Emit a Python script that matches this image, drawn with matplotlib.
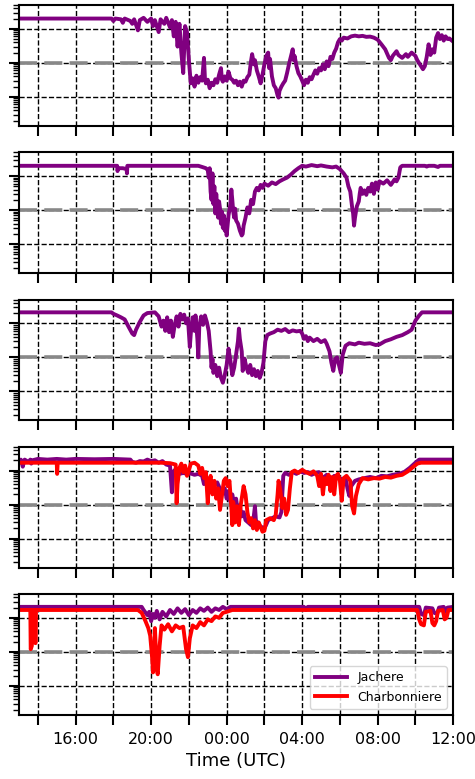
import numpy as np
import matplotlib
matplotlib.use("Agg")
import matplotlib.pyplot as plt
from matplotlib.ticker import FixedLocator, FuncFormatter, NullFormatter

# Visibilité (m) en fonction de l'heure (heures depuis minuit du premier jour)
site1_jachere = [
    (13.0, 20000), (17.9, 20000), (18.0, 17000), (18.1, 20000), (18.4, 19000),
    (18.5, 15000), (18.6, 20000), (18.9, 17000), (19.0, 14000), (19.1, 19000),
    (19.3, 9000), (19.4, 18000), (19.6, 21000), (19.8, 16000), (20.0, 20000),
    (20.1, 12000), (20.2, 18000), (20.4, 8000), (20.5, 19000), (20.7, 14000),
    (20.8, 21000), (21.0, 11000), (21.1, 18000), (21.2, 6000), (21.3, 16000),
    (21.4, 3000), (21.5, 14000), (21.6, 2000), (21.7, 500), (21.8, 12000),
    (21.9, 8000), (22.0, 1200), (22.1, 250), (22.2, 350), (22.3, 200),
    (22.4, 420), (22.5, 260), (22.6, 380), (22.7, 300), (22.8, 1400),
    (22.85, 350), (22.9, 250), (23.0, 320), (23.1, 180), (23.2, 260),
    (23.3, 220), (23.4, 330), (23.5, 260), (23.6, 450), (23.7, 700),
    (23.75, 320), (23.8, 280), (23.9, 400), (24.0, 300), (24.1, 550),
    (24.2, 350), (24.3, 320), (24.4, 260), (24.5, 300), (24.6, 220),
    (24.7, 280), (24.8, 200), (24.9, 300), (25.0, 280), (25.1, 380),
    (25.2, 450), (25.3, 1200), (25.35, 1800), (25.45, 900), (25.5, 1200),
    (25.6, 600), (25.7, 400), (25.8, 250), (25.9, 450), (26.0, 900),
    (26.1, 1600), (26.2, 2000), (26.25, 700), (26.3, 1300), (26.4, 400),
    (26.5, 220), (26.6, 180), (26.7, 110), (26.75, 95), (26.8, 150),
    (26.9, 200), (27.0, 250), (27.1, 300), (27.2, 500), (27.3, 900),
    (27.4, 1500), (27.5, 2500), (27.55, 1200), (27.6, 1600), (27.7, 800),
    (27.8, 500), (27.9, 400), (28.0, 300), (28.1, 220), (28.2, 320),
    (28.3, 260), (28.4, 380), (28.5, 330), (28.6, 450), (28.7, 600),
    (28.8, 480), (28.9, 700), (29.0, 600), (29.1, 900), (29.2, 650),
    (29.3, 1100), (29.4, 800), (29.5, 1500), (29.6, 1300), (29.7, 2000),
    (29.8, 2600), (29.9, 4000), (30.0, 5000), (30.1, 4500), (30.2, 5500),
    (30.4, 5200), (30.6, 6000), (30.8, 6300), (31.0, 6000), (31.2, 6200),
    (31.4, 5800), (31.6, 5900), (31.8, 5500), (32.0, 4800), (32.2, 3500),
    (32.4, 2500), (32.6, 1400), (32.7, 1200), (32.8, 1600), (33.0, 2200),
    (33.1, 1700), (33.3, 1400), (33.5, 1800), (33.6, 1500), (33.8, 2000),
    (34.0, 1600), (34.1, 1200), (34.3, 800), (34.4, 650), (34.5, 800),
    (34.6, 1500), (34.7, 3500), (34.8, 1700), (34.9, 2500), (35.0, 2000),
    (35.1, 5500), (35.2, 7500), (35.3, 5000), (35.4, 6500), (35.5, 4500),
    (35.6, 6000), (35.7, 5000), (35.8, 5200), (36.0, 4200),
]

site2_jachere = [
    (13.0, 20000), (18.2, 20000), (18.22, 14000), (18.25, 17000), (18.5, 17000),
    (18.7, 16000), (18.72, 12000), (18.74, 20000), (22.5, 20000), (22.7, 18500),
    (22.9, 17000), (23.0, 15000), (23.05, 9000), (23.1, 17000), (23.15, 3500),
    (23.2, 2000), (23.25, 12000), (23.3, 1500), (23.35, 5000), (23.4, 800),
    (23.45, 3000), (23.5, 1200), (23.55, 600), (23.6, 1800), (23.65, 1100),
    (23.7, 400), (23.75, 900), (23.8, 300), (23.85, 700), (23.9, 250),
    (23.95, 500), (24.0, 180), (24.05, 350), (24.1, 700), (24.2, 1500),
    (24.25, 4000), (24.3, 2000), (24.35, 900), (24.4, 600), (24.45, 1100),
    (24.5, 500), (24.6, 400), (24.7, 250), (24.8, 180), (24.85, 200),
    (24.9, 350), (25.0, 600), (25.1, 1200), (25.2, 800), (25.3, 2000),
    (25.4, 1500), (25.5, 3500), (25.6, 4500), (25.7, 3800), (25.8, 5500),
    (25.9, 4500), (26.0, 6000), (26.2, 5200), (26.4, 6500), (26.6, 5800),
    (26.8, 7000), (27.0, 8000), (27.2, 9000), (27.4, 11000), (27.6, 14000),
    (27.8, 17000), (28.0, 20000), (28.2, 19000), (28.5, 21000), (28.8, 19500),
    (29.0, 20500), (29.3, 19000), (29.6, 18000), (29.8, 19000), (30.0, 16000),
    (30.2, 12000), (30.35, 9000), (30.45, 5000), (30.55, 3500), (30.65, 1200),
    (30.7, 800), (30.75, 350), (30.8, 600), (30.85, 900), (30.9, 1300),
    (31.0, 1800), (31.05, 3000), (31.1, 4500), (31.2, 3000), (31.3, 3800),
    (31.4, 2800), (31.5, 4500), (31.6, 3500), (31.7, 6000), (31.8, 3000),
    (31.9, 6500), (32.0, 4000), (32.1, 7000), (32.3, 6000), (32.5, 7500),
    (32.7, 5500), (32.9, 8000), (33.0, 7000), (33.1, 9000), (33.2, 18000),
    (33.3, 20000), (34.5, 20000), (34.6, 19000), (34.7, 20000), (35.0, 20000),
    (35.2, 18500), (35.3, 20000), (36.0, 20000),
]

site3_jachere = [
    (13.0, 21000), (17.9, 21000), (18.0, 19000), (18.2, 17000), (18.4, 15000),
    (18.6, 13000), (18.8, 8000), (19.0, 5000), (19.1, 4500), (19.2, 6500),
    (19.4, 11000), (19.6, 17000), (19.8, 20000), (20.2, 21000), (20.4, 16000),
    (20.55, 8000), (20.65, 12000), (20.75, 6000), (20.85, 15000), (20.95, 5500),
    (21.05, 12000), (21.15, 4000), (21.25, 9000), (21.35, 16000), (21.45, 8000),
    (21.55, 19000), (21.65, 13000), (21.75, 18000), (21.85, 10000), (21.95, 14000),
    (22.05, 2000), (22.1, 5000), (22.2, 15000), (22.3, 6000), (22.35, 17000),
    (22.45, 3500), (22.5, 1000), (22.55, 8000), (22.65, 16000), (22.75, 9000),
    (22.85, 17000), (22.95, 11000), (23.05, 6000), (23.15, 1500), (23.2, 500),
    (23.25, 900), (23.3, 350), (23.4, 600), (23.5, 280), (23.6, 500),
    (23.7, 250), (23.8, 180), (23.9, 300), (24.0, 600), (24.1, 1800),
    (24.2, 800), (24.3, 300), (24.4, 500), (24.5, 1200), (24.6, 3000),
    (24.65, 7000), (24.7, 3500), (24.8, 1500), (24.85, 400), (24.95, 900),
    (25.05, 500), (25.15, 350), (25.25, 600), (25.35, 300), (25.45, 450),
    (25.55, 280), (25.65, 400), (25.75, 250), (25.85, 350), (25.95, 700),
    (26.05, 3000), (26.15, 4500), (26.3, 5000), (26.5, 5500), (26.7, 6500),
    (26.9, 6000), (27.1, 6800), (27.3, 5500), (27.5, 6200), (27.7, 5800),
    (27.9, 6000), (28.0, 5000), (28.1, 3500), (28.2, 4200), (28.3, 3000),
    (28.4, 3800), (28.6, 3000), (28.8, 3500), (29.0, 2800), (29.2, 3200),
    (29.3, 2500), (29.45, 1500), (29.55, 700), (29.65, 400), (29.75, 900),
    (29.85, 1000), (29.95, 600), (30.05, 350), (30.15, 1200), (30.3, 2200),
    (30.5, 2600), (30.8, 2400), (31.0, 2700), (31.3, 2500), (31.6, 2600),
    (31.9, 2300), (32.1, 2400), (32.4, 3000), (32.7, 3400), (33.0, 4000),
    (33.3, 4500), (33.6, 5500), (33.8, 6500), (34.0, 12000), (34.2, 17000),
    (34.35, 21000), (36.0, 21000),
]

site4_jachere = [
    (13.0, 19000), (13.1, 21000), (13.2, 13000), (13.25, 17000), (13.3, 21000),
    (13.5, 18000), (13.6, 21000), (13.65, 16000), (13.7, 20000), (14.0, 22000),
    (14.5, 21000), (15.0, 22000), (15.5, 21000), (16.0, 22000), (17.0, 21500),
    (18.0, 22000), (18.9, 21000), (19.0, 18000), (19.2, 17000), (19.4, 19000),
    (19.6, 18500), (19.8, 21000), (20.0, 19000), (20.2, 20000), (20.4, 17000),
    (20.6, 19000), (20.8, 15000), (21.0, 14000), (21.1, 2300), (21.15, 9000),
    (21.3, 11000), (21.5, 8000), (21.7, 8500), (21.9, 8000), (22.1, 8200),
    (22.3, 7500), (22.5, 8000), (22.7, 7000), (22.8, 4000), (22.9, 6000),
    (23.0, 3000), (23.1, 5000), (23.3, 3500), (23.5, 4500), (23.7, 2500),
    (23.9, 3000), (24.0, 1500), (24.1, 2500), (24.2, 1200), (24.3, 2000),
    (24.4, 1000), (24.5, 1500), (24.6, 600), (24.7, 900), (24.8, 450),
    (24.9, 600), (25.0, 350), (25.2, 280), (25.3, 250), (25.4, 300),
    (25.5, 900), (25.55, 350), (25.7, 250), (25.85, 220), (26.0, 200),
    (26.1, 260), (26.2, 350), (26.4, 400), (26.6, 450), (26.8, 420),
    (26.9, 600), (27.0, 7000), (27.1, 8500), (27.3, 7500), (27.5, 9000),
    (27.7, 8000), (27.9, 9500), (28.1, 8500), (28.3, 9000), (28.5, 7500),
    (28.7, 8500), (28.9, 9000), (29.1, 6000), (29.3, 7500), (29.5, 5000),
    (29.7, 7000), (29.9, 6500), (30.1, 5500), (30.3, 6000), (30.4, 3000),
    (30.5, 1800), (30.6, 3500), (30.8, 5000), (31.0, 5500), (31.3, 6000),
    (31.6, 6500), (31.9, 6000), (32.2, 7000), (32.5, 6800), (32.8, 7500),
    (33.1, 8000), (33.4, 9000), (33.7, 12000), (34.0, 17000), (34.2, 21000),
    (36.0, 21000),
]

site4_charbonniere = [
    (13.0, 17000), (15.0, 17000), (15.02, 8000), (15.05, 17000), (19.9, 17000),
    (20.5, 17000), (21.0, 16500), (21.3, 15000), (21.35, 1100), (21.4, 4000),
    (21.5, 12000), (21.6, 16000), (21.7, 9000), (21.8, 14000), (21.9, 7000),
    (22.0, 10000), (22.1, 16000), (22.3, 17000), (22.5, 14000), (22.6, 8000),
    (22.7, 12000), (22.8, 6000), (22.9, 9000), (23.0, 1100), (23.05, 3500),
    (23.15, 7000), (23.25, 2000), (23.35, 5000), (23.45, 1500), (23.55, 3000),
    (23.65, 700), (23.75, 1800), (23.85, 5000), (23.95, 6000), (24.05, 3500),
    (24.15, 5000), (24.25, 800), (24.3, 250), (24.35, 1200), (24.45, 300),
    (24.55, 900), (24.65, 250), (24.75, 1000), (24.9, 3500), (25.0, 2000),
    (25.1, 600), (25.2, 300), (25.3, 400), (25.4, 200), (25.5, 350),
    (25.6, 180), (25.7, 300), (25.8, 220), (25.9, 160), (26.0, 170),
    (26.1, 350), (26.3, 400), (26.5, 350), (26.6, 500), (26.7, 2000),
    (26.75, 5000), (26.85, 2500), (26.95, 800), (27.05, 1500), (27.15, 500),
    (27.25, 700), (27.35, 3000), (27.45, 9000), (27.6, 10000), (27.8, 8500),
    (28.0, 10500), (28.2, 9000), (28.4, 8000), (28.6, 9500), (28.8, 7000),
    (28.9, 3500), (29.0, 8000), (29.1, 2000), (29.2, 6000), (29.3, 4000),
    (29.4, 7500), (29.5, 2500), (29.6, 6500), (29.7, 2000), (29.8, 7000),
    (29.9, 8000), (30.0, 5000), (30.1, 1300), (30.2, 6000), (30.35, 7000),
    (30.55, 5000), (30.65, 900), (30.75, 550), (30.85, 1800), (31.0, 4000),
    (31.2, 6000), (31.5, 5500), (31.8, 6000), (32.1, 5800), (32.4, 6500),
    (32.7, 6200), (33.0, 7000), (33.3, 7500), (33.6, 9500), (33.9, 13000),
    (34.1, 16000), (34.3, 17000), (36.0, 17000),
]

site5_jachere = [
    (13.0, 21000), (19.5, 21000), (19.6, 17000), (19.8, 12000), (19.9, 15000),
    (20.0, 8000), (20.1, 13000), (20.2, 10000), (20.3, 16000), (20.45, 9000),
    (20.6, 15000), (20.8, 11000), (21.0, 17000), (21.2, 13000), (21.4, 19000),
    (21.6, 14000), (21.8, 18000), (22.0, 12000), (22.2, 17000), (22.4, 14000),
    (22.6, 19000), (22.8, 16000), (23.0, 20000), (23.2, 15000), (23.4, 19000),
    (23.6, 17000), (23.8, 21000), (24.0, 18000), (24.2, 21000), (28.1, 21000),
    (28.2, 17000), (28.3, 21000), (34.2, 21000), (34.3, 13000), (34.45, 12000),
    (34.55, 20000), (34.9, 19000), (35.0, 14000), (35.15, 13000), (35.25, 20000),
    (35.5, 21000), (35.6, 15000), (35.7, 20000), (36.0, 21000),
]

site5_charbonniere = [
    (13.0, 17000), (13.6, 17000), (13.62, 1200), (13.68, 1500), (13.7, 17000),
    (13.85, 17000), (13.87, 1800), (13.9, 17000), (19.3, 17000), (19.5, 14000),
    (19.7, 8000), (19.85, 5000), (19.95, 3000), (20.05, 700), (20.1, 250),
    (20.15, 400), (20.2, 5000), (20.3, 300), (20.35, 220), (20.45, 1500),
    (20.55, 6000), (20.7, 4500), (20.9, 6500), (21.1, 4000), (21.3, 6000),
    (21.5, 5000), (21.7, 5500), (21.85, 1200), (21.95, 700), (22.05, 2500),
    (22.2, 6000), (22.4, 5000), (22.6, 7500), (22.8, 6000), (23.0, 9000),
    (23.2, 8000), (23.4, 11000), (23.6, 10000), (23.8, 14000), (24.0, 15000),
    (24.3, 17000), (34.1, 17000), (34.2, 9000), (34.3, 6500), (34.45, 6000),
    (34.55, 15000), (34.8, 16000), (34.9, 7000), (35.0, 6000), (35.1, 8000),
    (35.2, 16000), (35.45, 17000), (35.55, 9000), (35.65, 10000), (35.75, 17000),
    (36.0, 17000),
]

panels = [
    [site1_jachere],
    [site2_jachere],
    [site3_jachere],
    [site4_jachere, site4_charbonniere],
    [site5_jachere, site5_charbonniere],
]
colors = ["purple", "red"]
labels = ["Jachere", "Charbonniere"]

fog_threshold = 1000
major_hours = [16, 20, 24, 28, 32, 36]
minor_hours = [14, 18, 22, 26, 30, 34]

fig, axes = plt.subplots(5, 1, figsize=(4.75, 7.79), dpi=100, sharex=True)
fig.subplots_adjust(left=0.04, right=0.954, top=1 - 5 / 779,
                    bottom=1 - 715 / 779, hspace=26.3 / 121)

for ax, series in zip(axes, panels):
    ax.set_yscale("log")
    ax.set_ylim(14, 5e4)
    ax.set_xlim(13, 36)
    ax.set_axisbelow(True)
    ax.axhline(fog_threshold, color="#888888", lw=2.6, dashes=(5, 2), zorder=1.8)
    for data, c, lab in zip(series, colors, labels):
        t, v = zip(*data)
        ax.plot(t, v, color=c, lw=2.8, label=lab, zorder=2)

    ax.xaxis.set_major_locator(FixedLocator(major_hours))
    ax.xaxis.set_minor_locator(FixedLocator(minor_hours))
    ax.xaxis.set_major_formatter(FuncFormatter(lambda h, pos: f"{int(round(h)) % 24:02d}:00"))
    ax.grid(True, which="major", axis="both", color="k", ls="--", lw=1)
    ax.grid(True, which="minor", axis="x", color="k", ls="--", lw=1)

    ax.tick_params(axis="x", which="both", length=7, width=1.5, labelsize=11.5, pad=5)
    ax.tick_params(axis="y", which="major", length=7, width=1.5, labelleft=False)
    ax.tick_params(axis="y", which="minor", length=4, width=1, labelleft=False)
    ax.yaxis.set_minor_formatter(NullFormatter())
    for s in ax.spines.values():
        s.set_linewidth(1.5)

axes[-1].set_xlabel("Time (UTC)", fontsize=13)
axes[-1].legend(loc="lower right", fontsize=9, handlelength=2.6)

fig.savefig("out.png", dpi=100)
